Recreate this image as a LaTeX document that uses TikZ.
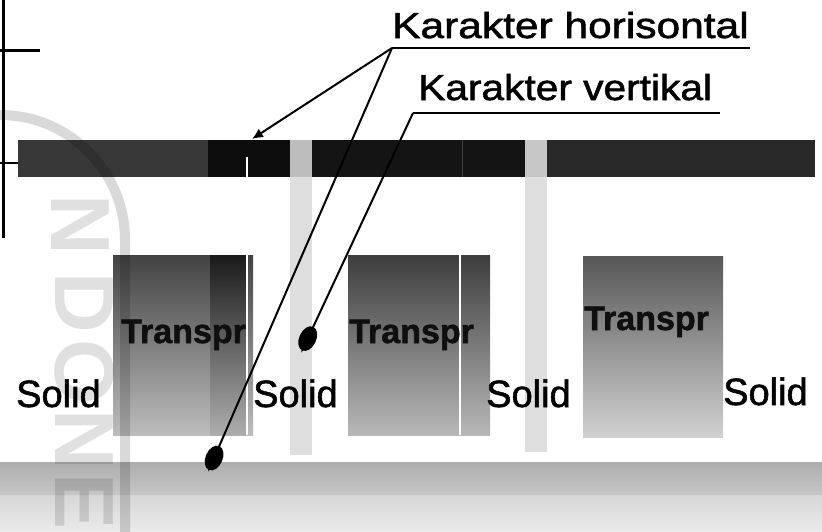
\documentclass[tikz,border=0pt]{standalone}
\usepackage{fontspec}
\setmainfont{Liberation Sans}
\newfontfamily\heavysans[FakeBold=1.4]{Liberation Sans}
\newfontfamily\heavybold[FakeBold=1.6]{Liberation Sans Bold}
\usetikzlibrary{arrows.meta,shapes.geometric}
\begin{document}
\begin{tikzpicture}[x=1pt,y=-1pt,
  lbl/.style={inner sep=0pt, anchor=base west, font=\heavysans\fontsize{36}{40}\selectfont},
  solidtxt/.style={inner sep=0pt, anchor=base west, font=\heavysans\fontsize{38}{42}\selectfont},
  transtxt/.style={inner sep=0pt, anchor=base west, text=black!94, font=\heavybold\fontsize{34}{38}\selectfont},
  uline/.style={line width=2.8pt, black},
  callout/.style={line width=2pt, black},
  smalltip/.style={-{Latex[length=11pt,width=10pt]}},
  pointtip/.style={-{Latex[length=12pt,width=10pt]}},
  blobshape/.style={ellipse, fill=black, draw=none, inner sep=0pt, sloped,
                    minimum width=26pt, minimum height=17pt},
  wmline/.style={line width=10pt, black, opacity=0.15},
  wmtext/.style={inner sep=0pt, rotate=-90, text=black, text opacity=0.12,
                 font=\fontsize{84}{90}\selectfont\bfseries},
  speck/.style={fill=black!13, draw=none}
]
\useasboundingbox (0,0) rectangle (822,531);
\begin{scope}
\clip (0,0) rectangle (822,531);

% ruler on the left edge
\draw[line width=3pt] (3,0) -- (3,238);
\draw[line width=3pt] (0,50) -- (40,50);
\draw[line width=2.5pt] (0,163) -- (18,163);

% horizontal character band
\fill[black!78] (18,140) rectangle (208,177);
\fill[black!95] (208,140) rectangle (290,177);
\fill[black!92] (312,140) rectangle (525,177);
\fill[black!84] (547,140) rectangle (815,177);
\draw[white, line width=1.6pt] (247,157) -- (247,177);
\draw[black!75, line width=0.8pt] (462,140) -- (462,177);

% speckled vertical gaps
\fill[black!26] (290,140) rectangle (312,177);
\fill[black!22] (525,140) rectangle (547,177);
\fill[speck] (290,177) rectangle (312,455);
\fill[speck] (525,177) rectangle (547,452);

% transparent blocks
\shade[top color=black!74, bottom color=black!26] (113,255) rectangle (253,435);
\shade[top color=black!90, bottom color=black!32] (210,255) rectangle (247,435);
\draw[white, line width=1.4pt] (247,255) -- (247,435);
\shade[top color=black!76, bottom color=black!28] (348,255) rectangle (490,435);
\draw[white, line width=1.2pt] (460,255) -- (460,435);
\shade[top color=black!66, bottom color=black!18] (583,256) rectangle (723,437);

% bottom band
\shade[top color=black!32, bottom color=black!22] (0,462) rectangle (822,495);
\shade[top color=black!16, bottom color=black!8] (0,495) rectangle (822,531);

% block labels
\node[transtxt] (t1) at (121,343) {Transpr};
\node[transtxt] (t2) at (349,343) {Transpr};
\node[transtxt] (t3) at (584,330) {Transpr};
\node[solidtxt] (s1) at (16,407) {Solid};
\node[solidtxt] (s2) at (253,407) {Solid};
\node[solidtxt] (s3) at (486,407) {Solid};
\node[solidtxt] (s4) at (723,405) {Solid};

% callout labels
\node[lbl] (kh) at (392,38) {\scalebox{1.18}[1]{Karakter horisontal}};
\node[lbl] (kv) at (418,100) {\scalebox{1.13}[1]{Karakter vertikal}};
\coordinate (khs) at (392,48);
\coordinate (khe) at (750,48);
\coordinate (kvs) at (413,113);
\coordinate (kve) at (720,113);
\draw[uline] (khs) -- (khe);
\draw[uline] (kvs) -- (kve);

% arrow targets
\coordinate (hbar) at (252,139);
\coordinate (hlow) at (208,472);
\coordinate (vgap) at (301,353);
\draw[callout, smalltip] (khs) -- (hbar);
\draw[callout, pointtip] (khs) -- (hlow) node[blobshape, pos=0.967] (bh) {};
\draw[callout, pointtip] (kvs) -- (vgap) node[blobshape, pos=0.94] (bv) {};

% faint seal in the background
\draw[wmline] (0,115) arc[start angle=-90, end angle=0, radius=125] -- (125,540);
\node[wmtext] (w1) at (80,225) {N};
\node[wmtext] (w2) at (84,303) {D};
\node[wmtext] (w3) at (84,372) {O};
\node[wmtext] (w4) at (84,440) {N};
\node[wmtext] (w5) at (84,502) {E};
\end{scope}
\end{tikzpicture}
\end{document}
